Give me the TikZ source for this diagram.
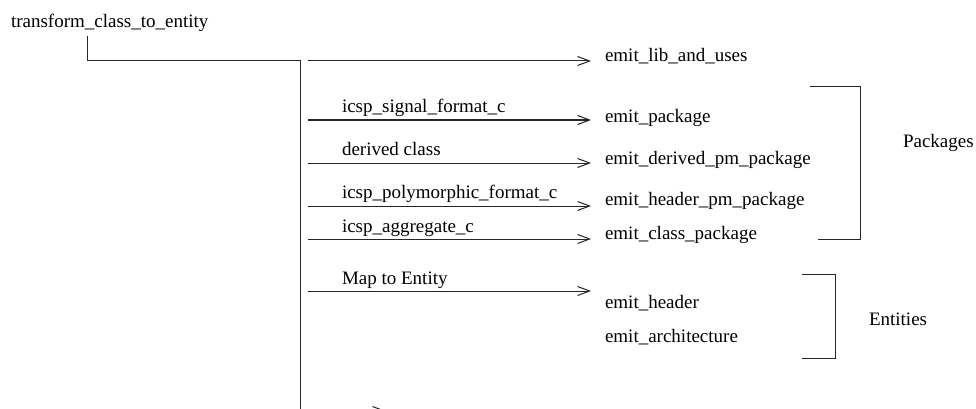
\documentclass[tikz,border=0pt]{standalone}
\usepackage{fontspec}
\setmainfont{Liberation Serif}
\usetikzlibrary{arrows.meta}
\begin{document}
\begin{tikzpicture}[x=1pt,y=-1pt,
  txt/.style={anchor=base west,inner sep=0pt,outer sep=0pt,font=\fontsize{19}{22}\selectfont},
  ln/.style={line width=1pt,black!85},
  arr/.style={ln,-{Straight Barb[length=12pt,width=9pt,line width=1pt]}},
  brk/.style={ln}]
\useasboundingbox (0,0) rectangle (976,409);
\clip (0,0) rectangle (976,409);
% root
\node[txt] (root) at (11,28) {transform\_class\_to\_entity};
\coordinate (r0) at (87,36);
\coordinate (rc) at (87,61);
\coordinate (t0) at (300,61);
\coordinate (t1) at (300,412);
\draw[ln] (r0) -- (rc) -- (t0) -- (t1);
% targets
\node[txt] (lib) at (605,62) {emit\_lib\_and\_uses};
\node[txt] (pkg) at (605,122) {emit\_package};
\node[txt] (dpm) at (605,164) {emit\_derived\_pm\_package};
\node[txt] (hpm) at (605,205) {emit\_header\_pm\_package};
\node[txt] (cls) at (605,239) {emit\_class\_package};
\node[txt] (hdr) at (605,308) {emit\_header};
\node[txt] (arc) at (605,342) {emit\_architecture};
% labels
\node[txt] (l1) at (342,113) {icsp\_signal\_format\_c};
\node[txt] (l2) at (342,155) {derived class};
\node[txt] (l3) at (342,198) {icsp\_polymorphic\_format\_c};
\node[txt] (l4) at (342,232) {icsp\_aggregate\_c};
\node[txt] (l5) at (342,284) {Map to Entity};
% arrows
\coordinate (s0) at (308,61);  \coordinate (e0) at (591,61);
\coordinate (s1) at (308,120); \coordinate (e1) at (591,120);
\coordinate (s2) at (308,163); \coordinate (e2) at (591,163);
\coordinate (s3) at (308,206); \coordinate (e3) at (591,206);
\coordinate (s4) at (308,239); \coordinate (e4) at (591,239);
\coordinate (s5) at (308,291); \coordinate (e5) at (591,291);
\coordinate (s6) at (308,411); \coordinate (e6) at (386,411);
\foreach \i in {0,...,6} \draw[arr] (s\i) -- (e\i);
% brackets
\node[txt] (pk) at (903,147) {Packages};
\node[txt] (en) at (869,325) {Entities};
\coordinate (pa) at (810,87); \coordinate (pb) at (860,87);
\coordinate (pc) at (860,239); \coordinate (pd) at (818,239);
\draw[brk] (pa) -- (pb) -- (pc) -- (pd);
\coordinate (ea) at (802,274); \coordinate (eb) at (835,274);
\coordinate (ec) at (835,358); \coordinate (ed) at (802,358);
\draw[brk] (ea) -- (eb) -- (ec) -- (ed);
\end{tikzpicture}
\end{document}
